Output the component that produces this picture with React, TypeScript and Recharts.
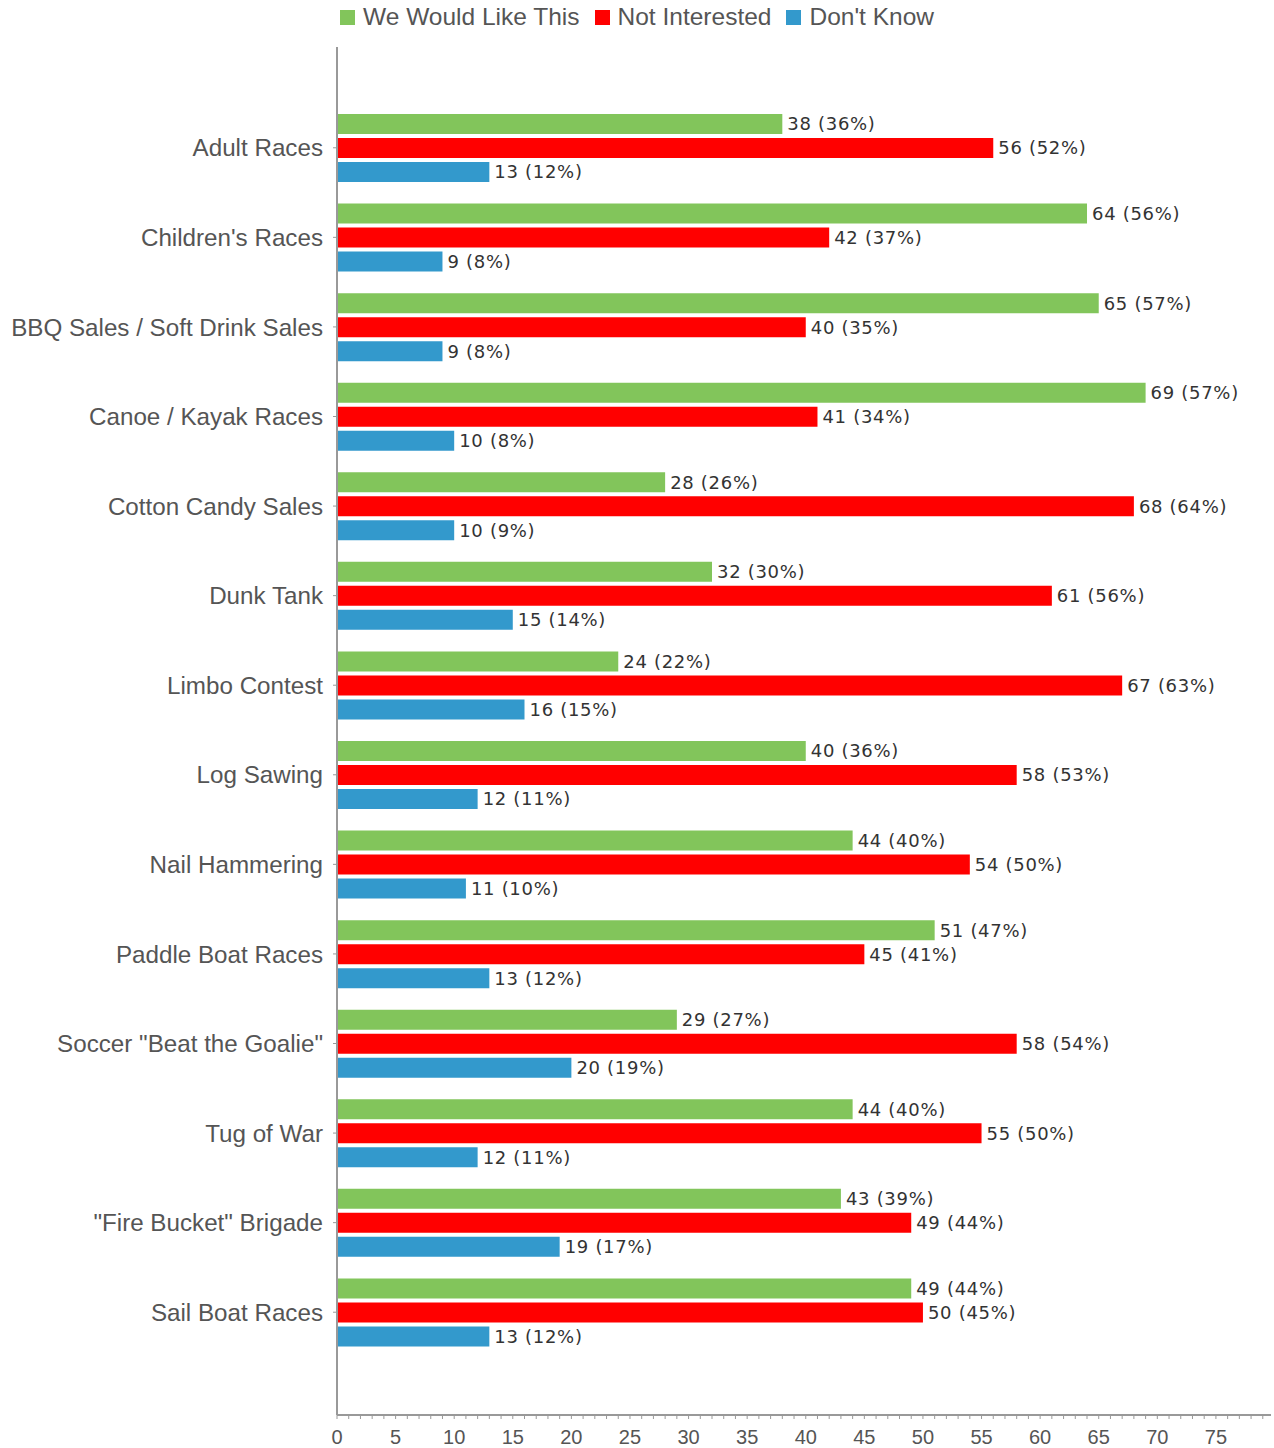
import React from "react";
import { BarChart, Bar, XAxis, YAxis, Legend, LabelList } from "recharts";

const categories = [
  "Adult Races",
  "Children's Races",
  "BBQ Sales / Soft Drink Sales",
  "Canoe / Kayak Races",
  "Cotton Candy Sales",
  "Dunk Tank",
  "Limbo Contest",
  "Log Sawing",
  "Nail Hammering",
  "Paddle Boat Races",
  'Soccer "Beat the Goalie"',
  "Tug of War",
  '"Fire Bucket" Brigade',
  "Sail Boat Races",
];

const seriesNames = ["We Would Like This", "Not Interested", "Don't Know"];

const likeValues = [38, 64, 65, 69, 28, 32, 24, 40, 44, 51, 29, 44, 43, 49];
const likePct = [36, 56, 57, 57, 26, 30, 22, 36, 40, 47, 27, 40, 39, 44];
const notValues = [56, 42, 40, 41, 68, 61, 67, 58, 54, 45, 58, 55, 49, 50];
const notPct = [52, 37, 35, 34, 64, 56, 63, 53, 50, 41, 54, 50, 44, 45];
const dkValues = [13, 9, 9, 10, 10, 15, 16, 12, 11, 13, 20, 12, 19, 13];
const dkPct = [12, 8, 8, 8, 9, 14, 15, 11, 10, 12, 19, 11, 17, 12];

const xTicks = Array.from({ length: 80 }, (_, i) => i);

const data = categories.map((name, i) => ({
  name,
  like: likeValues[i],
  likeLabel: `${likeValues[i]} (${likePct[i]}%)`,
  not: notValues[i],
  notLabel: `${notValues[i]} (${notPct[i]}%)`,
  dk: dkValues[i],
  dkLabel: `${dkValues[i]} (${dkPct[i]}%)`,
}));

const GREEN = "#82c55b";
const RED = "#ff0000";
const BLUE = "#3399cc";
const AXIS = "#999999";

const renderLegend = (props: any) => {
  const payload = [...(props.payload || [])].sort(
    (a: any, b: any) => seriesNames.indexOf(a.value) - seriesNames.indexOf(b.value)
  );
  return (
    <div
      style={{
        height: 34,
        display: "flex",
        justifyContent: "center",
        alignItems: "center",
        fontFamily: "'Liberation Sans', Arial, sans-serif",
        fontSize: 24.5,
        color: "#555",
      }}
    >
      {payload.map((p: any, i: number) => (
        <div key={i} style={{ display: "flex", alignItems: "center", marginRight: i < payload.length - 1 ? 15 : 0 }}>
          <span style={{ display: "inline-block", width: 15, height: 15, background: p.color, marginRight: 8 }} />
          <span>{p.value}</span>
        </div>
      ))}
    </div>
  );
};

const labelStyle = {
  fontFamily: "'DejaVu Sans', Verdana, sans-serif",
  fontSize: 18,
  letterSpacing: 0.7,
  fill: "#333",
};

export default function App() {
  return (
    <div style={{ position: "absolute", left: 0, top: 0, background: "#fff" }}>
      <BarChart
        width={1274}
        height={1448}
        data={data}
        layout="vertical"
        margin={{ top: 13, right: 3, bottom: 0, left: 0 }}
      >
        <Legend verticalAlign="top" align="center" content={renderLegend} wrapperStyle={{ top: 0, left: 0, width: 1274 }} />
        <XAxis
          type="number"
          domain={[0, 79.7]}
          ticks={xTicks}
          interval={0}
          allowDataOverflow
          height={33}
          tickSize={4}
          tickMargin={11}
          axisLine={{ stroke: AXIS, strokeWidth: 2 }}
          tickLine={{ stroke: AXIS }}
          tickFormatter={(v: number) => (v % 5 === 0 ? String(v) : "")}
          tick={{ fill: "#555", fontSize: 20, fontFamily: "'Liberation Sans', Arial, sans-serif" }}
        />
        <YAxis
          type="category"
          dataKey="name"
          width={337}
          interval={0}
          tickSize={4}
          tickMargin={10}
          padding={{ top: 56, bottom: 58 }}
          axisLine={{ stroke: AXIS, strokeWidth: 2 }}
          tickLine={{ stroke: AXIS }}
          tick={{ fill: "#555", fontSize: 24.2, fontFamily: "'Liberation Sans', Arial, sans-serif" }}
        />
        <Bar dataKey="like" name={seriesNames[0]} fill={GREEN} barSize={20} isAnimationActive={false}>
          <LabelList dataKey="likeLabel" position="right" offset={5} style={labelStyle} />
        </Bar>
        <Bar dataKey="not" name={seriesNames[1]} fill={RED} barSize={20} isAnimationActive={false}>
          <LabelList dataKey="notLabel" position="right" offset={5} style={labelStyle} />
        </Bar>
        <Bar dataKey="dk" name={seriesNames[2]} fill={BLUE} barSize={20} isAnimationActive={false}>
          <LabelList dataKey="dkLabel" position="right" offset={5} style={labelStyle} />
        </Bar>
      </BarChart>
    </div>
  );
}
